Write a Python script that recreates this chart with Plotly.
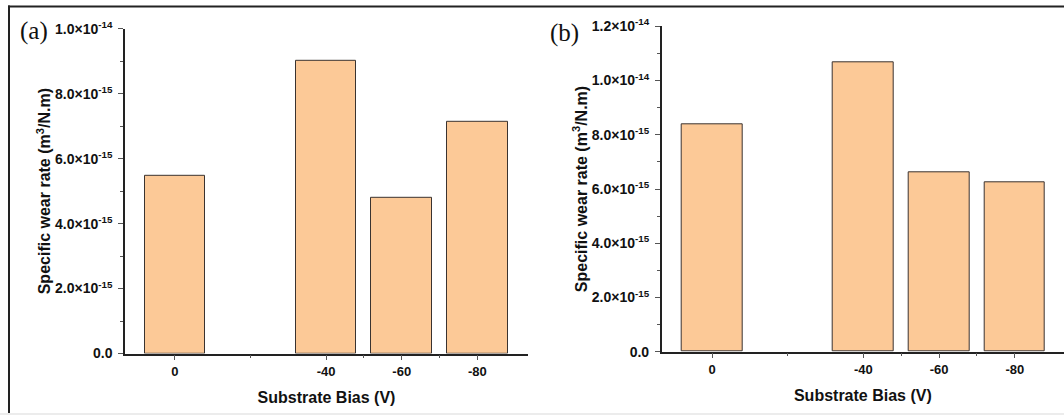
import plotly.graph_objects as go

W, H = 1064, 415

# ---- data ----
bias = [0, -40, -60, -80]
bias_labels = ["0", "-40", "-60", "-80"]
minor_bias = [-20, -50, -70]
wear_a = [5.46e-15, 9.00e-15, 4.80e-15, 7.14e-15]
wear_b = [8.37e-15, 10.67e-15, 6.63e-15, 6.26e-15]

ytick_a = [0, 2e-15, 4e-15, 6e-15, 8e-15, 1.0e-14]
ytext_a = ["0.0", "2.0×10<sup>-15</sup>", "4.0×10<sup>-15</sup>", "6.0×10<sup>-15</sup>",
           "8.0×10<sup>-15</sup>", "1.0×10<sup>-14</sup>"]
yminor_a = [1e-15, 3e-15, 5e-15, 7e-15, 9e-15]

ytick_b = [0, 2e-15, 4e-15, 6e-15, 8e-15, 1.0e-14, 1.2e-14]
ytext_b = ["0.0", "2.0×10<sup>-15</sup>", "4.0×10<sup>-15</sup>", "6.0×10<sup>-15</sup>",
           "8.0×10<sup>-15</sup>", "1.0×10<sup>-14</sup>", "1.2×10<sup>-14</sup>"]
yminor_b = [1e-15, 3e-15, 5e-15, 7e-15, 9e-15, 1.1e-14]

x_title = "Substrate Bias (V)"
y_title = "Specific wear rate (m<sup>3</sup>/N.m)"

BAR_FILL = "#FCC997"
BAR_LINE = "#3a3330"


def px_x(v):
    return v / W


def px_y(v):
    return 1 - v / H


fig = go.Figure()
fig.add_trace(go.Bar(x=bias, y=wear_a, width=16, marker=dict(color=BAR_FILL, line=dict(color=BAR_LINE, width=1)),
                     xaxis="x", yaxis="y", showlegend=False))
fig.add_trace(go.Bar(x=bias, y=wear_b, width=16, marker=dict(color=BAR_FILL, line=dict(color=BAR_LINE, width=1)),
                     xaxis="x2", yaxis="y2", showlegend=False))

tickfont = dict(family="Liberation Sans, Arial, sans-serif", size=14, color="#111111", weight="bold")
xtickfont = dict(family="Liberation Sans, Arial, sans-serif", size=13, color="#111111", weight="bold")
titlefont = dict(family="Liberation Sans, Arial, sans-serif", size=16, color="#111111", weight="bold")

common_x = dict(
    type="linear", tickmode="array", tickvals=bias, ticktext=bias_labels, automargin=False,
    showline=True, linecolor="#222222", linewidth=1.5, ticks="outside", ticklen=5, tickwidth=1.2,
    tickcolor="#555555", showgrid=False, zeroline=False, tickfont=xtickfont,
    minor=dict(tickmode="array", tickvals=minor_bias, ticks="outside", ticklen=3, tickcolor="#555555", tickwidth=1),
    title=dict(text=x_title, font=titlefont, standoff=14),
)
common_y = dict(
    showline=True, linecolor="#222222", linewidth=1.5, ticks="outside", ticklen=5, tickwidth=1.2,
    tickcolor="#555555", showgrid=False, zeroline=False, tickfont=tickfont, tickmode="array", automargin=False,
    ticklabelstandoff=3,
)

fig.update_layout(
    template="none",
    width=W, height=H, margin=dict(l=0, r=0, t=0, b=0, autoexpand=False),
    paper_bgcolor="white", plot_bgcolor="white", bargap=0,
    xaxis=dict(domain=[px_x(125), px_x(528)], range=[13.2, -93.4], anchor="y", **common_x),
    yaxis=dict(domain=[px_y(353.5), px_y(28.8)], range=[0, 1.0e-14], anchor="x",
               tickvals=ytick_a, ticktext=ytext_a,
               minor=dict(tickmode="array", tickvals=yminor_a, ticks="outside", ticklen=3, tickcolor="#555555"),
               title=dict(text=y_title, font=titlefont, standoff=0),
               **common_y),
    xaxis2=dict(domain=[px_x(661.7), 1.0], range=[13.3, -93.0], anchor="y2", **common_x),
    yaxis2=dict(domain=[px_y(351.7), px_y(26.3)], range=[0, 1.2e-14], anchor="x2",
                tickvals=ytick_b, ticktext=ytext_b,
                minor=dict(tickmode="array", tickvals=yminor_b, ticks="outside", ticklen=3, tickcolor="#555555"),
                title=dict(text=y_title, font=titlefont, standoff=0),
                **common_y),
)

panel_font = dict(family="Liberation Serif, Times New Roman, serif", size=25, color="#111111")
fig.add_annotation(text="(a)", x=px_x(34), y=px_y(31), xref="paper", yref="paper",
                   showarrow=False, font=panel_font, xanchor="center", yanchor="middle")
fig.add_annotation(text="(b)", x=px_x(564), y=px_y(33), xref="paper", yref="paper",
                   showarrow=False, font=panel_font, xanchor="center", yanchor="middle")

# outer frame of the figure
fig.add_shape(type="line", xref="paper", yref="paper", x0=px_x(8), x1=1, y0=px_y(6.5), y1=px_y(6.5),
              line=dict(color="#222222", width=2))
fig.add_shape(type="line", xref="paper", yref="paper", x0=px_x(9), x1=px_x(9), y0=px_y(5.5), y1=px_y(413),
              line=dict(color="#222222", width=2))
fig.add_shape(type="rect", xref="paper", yref="paper", x0=0, x1=1, y0=0, y1=px_y(413),
              line=dict(width=0), fillcolor="#ececec")

fig.write_html("out.html", config={"displayModeBar": False},
               post_script="document.body.style.margin='0px';")
